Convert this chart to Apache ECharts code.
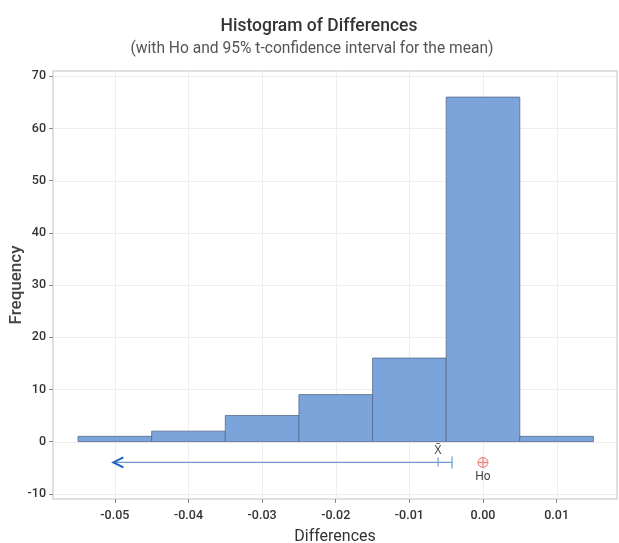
<!DOCTYPE html>
<html>
<head>
<meta charset="utf-8">
<script src="https://cdn.jsdelivr.net/npm/echarts@6/dist/echarts.min.js"></script>
<style>
  html, body { margin: 0; padding: 0; background: #fff; }
  #chart { width: 619px; height: 543px; }
</style>
</head>
<body>
<div id="chart"></div>
<script>
// Histogram bins (midpoints) and their counts
const binMids = [-0.05, -0.04, -0.03, -0.02, -0.01, 0.00, 0.01];
const binCounts = [1, 2, 5, 9, 16, 66, 1];
const binWidth = 0.01;

// Tick values for both axes
const xTicks = [-0.05, -0.04, -0.03, -0.02, -0.01, 0.00, 0.01];
const yTicks = [-10, 0, 10, 20, 30, 40, 50, 60, 70];

// One-sided 95% t-confidence interval (upper bound only) and the hypothesised mean
const sampleMean = -0.0061;
const ciUpper = -0.0042;
const ciArrowEnd = -0.0502;
const intervalLevel = -4.0;
const h0Value = 0.0;

const X_MIN = -0.0584, X_MAX = 0.0182;
const Y_MIN = -11, Y_MAX = 71;

const fontFam = 'Roboto, "Open Sans", sans-serif';

const chart = echarts.init(document.getElementById('chart'), null, { renderer: 'canvas' });

chart.setOption({
  animation: false,
  backgroundColor: '#ffffff',
  title: [
    {
      text: 'Histogram of Differences',
      left: 314, top: 13, textAlign: 'center',
      textStyle: { fontFamily: fontFam, fontSize: 17.5, fontWeight: 500, color: '#333' }
    },
    {
      text: '(with Ho and 95% t-confidence interval for the mean)',
      left: 307, top: 36, textAlign: 'center',
      textStyle: { fontFamily: fontFam, fontSize: 15.6, fontWeight: 'normal', color: '#555' }
    }
  ],
  grid: {
    left: 53, right: 2, top: 71, bottom: 44,
    outerBoundsMode: 'none',
    containLabel: false,
    show: true, borderColor: '#d6d6d6', borderWidth: 1.5, backgroundColor: 'transparent'
  },
  xAxis: {
    type: 'value',
    min: X_MIN, max: X_MAX,
    name: 'Differences', nameLocation: 'middle', nameGap: 30, nameMoveOverlap: false,
    nameTextStyle: { fontFamily: fontFam, fontSize: 16, color: '#333' },
    axisLine: { show: false, onZero: false },
    axisTick: { show: true, customValues: xTicks, length: 4, lineStyle: { color: '#888' } },
    axisLabel: {
      customValues: xTicks, margin: 10,
      fontFamily: fontFam, fontSize: 12.5, fontWeight: 500, color: '#333',
      formatter: v => v.toFixed(2)
    },
    splitLine: { show: false }
  },
  yAxis: {
    type: 'value',
    min: Y_MIN, max: Y_MAX,
    name: 'Frequency', nameLocation: 'middle', nameGap: 28, nameRotate: 90, nameMoveOverlap: false,
    nameTextStyle: { fontFamily: fontFam, fontSize: 17, fontWeight: 500, color: '#444' },
    axisLine: { show: false, onZero: false },
    axisTick: { show: true, customValues: yTicks, length: 4, lineStyle: { color: '#888' } },
    axisLabel: {
      customValues: yTicks, margin: 7,
      fontFamily: fontFam, fontSize: 12.5, fontWeight: 500, color: '#333'
    },
    splitLine: { show: false }
  },
  series: [
    // Faint reference grid at the tick positions
    {
      type: 'custom',
      silent: true,
      z: 1,
      data: [0],
      renderItem: function (params, api) {
        const children = [];
        const yLo = api.coord([0, Y_MIN])[1], yHi = api.coord([0, Y_MAX])[1];
        const xLo = api.coord([X_MIN, 0])[0], xHi = api.coord([X_MAX, 0])[0];
        xTicks.forEach(t => {
          const x = Math.round(api.coord([t, 0])[0]) + 0.5;
          children.push({ type: 'line', shape: { x1: x, y1: yLo, x2: x, y2: yHi },
            style: { stroke: '#eeeeee', lineWidth: 1 } });
        });
        yTicks.forEach(t => {
          const y = Math.round(api.coord([0, t])[1]) + 0.5;
          children.push({ type: 'line', shape: { x1: xLo, y1: y, x2: xHi, y2: y },
            style: { stroke: '#eeeeee', lineWidth: 1 } });
        });
        return { type: 'group', children };
      }
    },
    // Histogram bars
    {
      type: 'custom',
      z: 3,
      data: binMids.map((m, i) => [m, binCounts[i]]),
      encode: { x: 0, y: 1 },
      renderItem: function (params, api) {
        const mid = api.value(0), cnt = api.value(1);
        const p0 = api.coord([mid - binWidth / 2, cnt]);
        const p1 = api.coord([mid + binWidth / 2, 0]);
        return {
          type: 'rect',
          shape: { x: p0[0], y: p0[1], width: p1[0] - p0[0], height: p1[1] - p0[1] },
          style: { fill: '#7ba5da', stroke: '#56698a', lineWidth: 0.8 }
        };
      }
    },
    // Confidence interval: arrow to the left, bound tick, mean tick with x-bar label
    {
      type: 'custom',
      z: 4,
      data: [[sampleMean, ciUpper, ciArrowEnd, intervalLevel]],
      renderItem: function (params, api) {
        const mean = api.value(0), upper = api.value(1), tip = api.value(2), lvl = api.value(3);
        const pU = api.coord([upper, lvl]);
        const pM = api.coord([mean, lvl]);
        const pT = api.coord([tip, lvl]);
        const blue = '#6f9bd4';
        return {
          type: 'group',
          children: [
            { type: 'line', shape: { x1: pT[0] + 1, y1: pU[1], x2: pU[0], y2: pU[1] },
              style: { stroke: blue, lineWidth: 1.3 } },
            { type: 'polyline', shape: { points: [[pT[0] + 10, pT[1] - 5], [pT[0], pT[1]], [pT[0] + 10, pT[1] + 5]] },
              style: { stroke: '#1f5fbf', lineWidth: 2, fill: null } },
            { type: 'line', shape: { x1: pU[0], y1: pU[1] - 6, x2: pU[0], y2: pU[1] + 6 },
              style: { stroke: blue, lineWidth: 1.2 } },
            { type: 'line', shape: { x1: pM[0], y1: pM[1] - 5, x2: pM[0], y2: pM[1] + 4 },
              style: { stroke: blue, lineWidth: 1.2 } },
            { type: 'text', x: pM[0], y: pM[1] - 5,
              style: { text: 'X\u0304', fontFamily: fontFam, fontSize: 12, fill: '#444',
                       align: 'center', verticalAlign: 'bottom' } }
          ]
        };
      }
    },
    // Hypothesised mean Ho
    {
      type: 'custom',
      z: 4,
      data: [[h0Value, intervalLevel]],
      renderItem: function (params, api) {
        const p = api.coord([api.value(0), api.value(1)]);
        const red = '#e67c75';
        return {
          type: 'group',
          children: [
            { type: 'circle', shape: { cx: p[0], cy: p[1], r: 5 },
              style: { stroke: red, fill: '#fde8e6', lineWidth: 1 } },
            { type: 'line', shape: { x1: p[0] - 5, y1: p[1], x2: p[0] + 5, y2: p[1] },
              style: { stroke: red, lineWidth: 1 } },
            { type: 'line', shape: { x1: p[0], y1: p[1] - 5, x2: p[0], y2: p[1] + 5 },
              style: { stroke: red, lineWidth: 1 } },
            { type: 'text', x: p[0], y: p[1] + 9,
              style: { text: 'Ho', fontFamily: fontFam, fontSize: 12, fill: '#444',
                       align: 'center', verticalAlign: 'top' } }
          ]
        };
      }
    }
  ]
});
</script>
</body>
</html>
